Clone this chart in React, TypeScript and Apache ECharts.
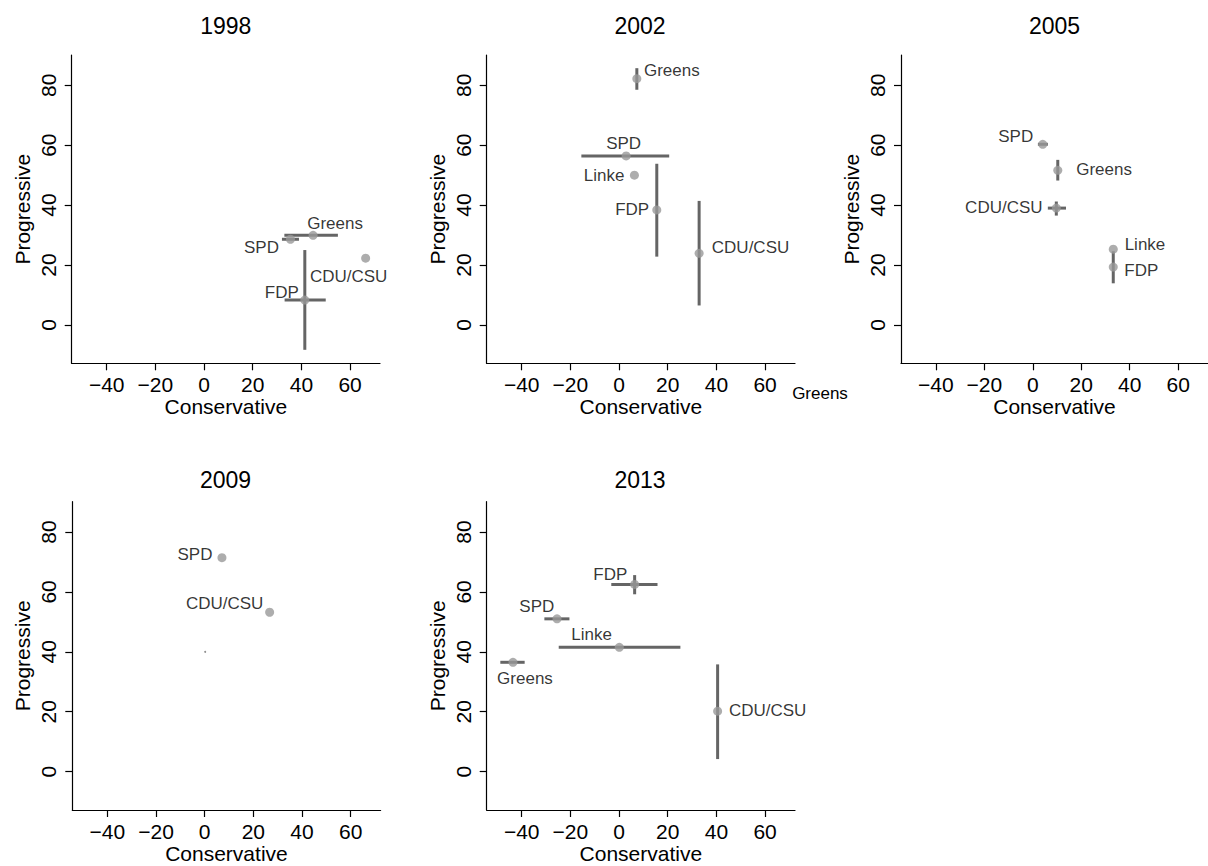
import React, { useEffect, useRef } from "react";
import * as echarts from "echarts";

// ---------- data ----------
const years = ["1998", "2002", "2005", "2009", "2013"];

const parties1998 = ["Greens", "SPD", "CDU/CSU", "FDP"];
const x1998 = [44.8, 35.5, 66.4, 41.4];
const y1998 = [29.9, 28.6, 22.3, 8.3];
const xLo1998 = [33.0, 32.0, null, 33.1];
const xHi1998 = [55.0, 39.0, null, 50.0];
const yLo1998 = [null, null, null, -8.3];
const yHi1998 = [null, null, null, 25.0];

const parties2002 = ["Greens", "SPD", "Linke", "FDP", "CDU/CSU"];
const x2002 = [7.3, 2.9, 6.3, 15.5, 32.9];
const y2002 = [82.2, 56.4, 50.0, 38.4, 23.9];
const xLo2002 = [null, -15.5, null, null, null];
const xHi2002 = [null, 20.6, null, null, null];
const yLo2002 = [78.5, null, null, 22.8, 6.5];
const yHi2002 = [85.7, null, null, 53.8, 41.4];

const parties2005 = ["SPD", "Greens", "CDU/CSU", "Linke", "FDP"];
const x2005 = [4.1, 10.3, 9.7, 33.2, 33.2];
const y2005 = [60.3, 51.6, 39.0, 25.3, 19.3];
const xLo2005 = [2.1, null, 6.2, null, null];
const xHi2005 = [6.2, null, 13.7, null, null];
const yLo2005 = [null, 48.2, 36.5, null, 13.9];
const yHi2005 = [null, 55.1, 41.2, null, 24.6];

const parties2009 = ["SPD", "CDU/CSU", ""];
const x2009 = [7.1, 26.7, 0.2];
const y2009 = [71.4, 53.2, 40.0];
const xLo2009 = [null, null, null];
const xHi2009 = [null, null, null];
const yLo2009 = [null, null, null];
const yHi2009 = [null, null, null];

const parties2013 = ["FDP", "SPD", "Linke", "Greens", "CDU/CSU"];
const x2013 = [6.4, -25.5, 0.1, -43.6, 40.5];
const y2013 = [62.5, 51.0, 41.5, 36.5, 20.2];
const xLo2013 = [-3.2, -30.7, -24.8, -48.8, null];
const xHi2013 = [15.8, -20.4, 25.2, -38.8, null];
const yLo2013 = [59.2, null, null, null, 4.2];
const yHi2013 = [65.6, null, null, null, 35.8];

const xTicks = [-40, -20, 0, 20, 40, 60];
const yTicks = [0, 20, 40, 60, 80];
const xAxisName = "Conservative";
const yAxisName = "Progressive";
const strayLabel = "Greens";

// ---------- layout / style (not data) ----------
const xMin = -54.4, xMax = 72.3, yMin = -12.8, yMax = 90.1;
const gridBoxes = [
  [71.7, 55], [486.7, 55], [901, 55],
  [72.3, 501.7], [486.7, 501.7],
];
const gridSize = 308.3;
const titlePos = [
  [225.8, 26.3], [640, 26.3], [1054.5, 26.3],
  [225.5, 480], [640, 479.5],
];
// label offsets (px) from each point, same order as parties
const labelOffsets = [
  [[22, -12], [-29, 8], [-17, 18.4], [-23, -8]],
  [[35, -8], [-2.5, -12.7], [-30.3, 0], [-24.6, 0], [51.4, -6]],
  [[-27, -7.7], [46.3, -1], [-52.5, -1], [31.7, -5], [28, 3.7]],
  [[-27, -3.4], [-45, -9], [0, 0]],
  [[-24.3, -10.3], [-20.2, -12.7], [-27.7, -13.3], [12, 16], [50, -1]],
];
const FONT = "'Liberation Sans', Arial, Helvetica, sans-serif";
const POINT = "#999999";
const BAR = "#656565";

const panels = [
  [parties1998, x1998, y1998, xLo1998, xHi1998, yLo1998, yHi1998],
  [parties2002, x2002, y2002, xLo2002, xHi2002, yLo2002, yHi2002],
  [parties2005, x2005, y2005, xLo2005, xHi2005, yLo2005, yHi2005],
  [parties2009, x2009, y2009, xLo2009, xHi2009, yLo2009, yHi2009],
  [parties2013, x2013, y2013, xLo2013, xHi2013, yLo2013, yHi2013],
];

const minus = (v: number) => String(v).replace("-", "\u2212");

function buildOption() {
  const grid: any[] = [];
  const xAxis: any[] = [];
  const yAxis: any[] = [];
  const series: any[] = [];
  const graphic: any[] = [];

  panels.forEach((p, i) => {
    const [names, xs, ys, xLo, xHi, yLo, yHi] = p as any[];
    const [gl, gt] = gridBoxes[i];
    grid.push({ left: gl, top: gt, width: gridSize, height: gridSize, containLabel: false });
    xAxis.push({
      type: "value", gridIndex: i, min: xMin, max: xMax,
      name: xAxisName, nameLocation: "middle", nameGap: 30,
      nameTextStyle: { fontSize: 21, color: "#000", fontFamily: FONT },
      axisLine: { show: true, onZero: false, lineStyle: { color: "#000", width: 1.2 } },
      axisTick: { show: true, length: 7, customValues: xTicks, lineStyle: { color: "#000", width: 1.2 } },
      axisLabel: { show: true, customValues: xTicks, fontSize: 21, color: "#000", fontFamily: FONT, margin: 11, formatter: minus },
      splitLine: { show: false },
    });
    yAxis.push({
      type: "value", gridIndex: i, min: yMin, max: yMax,
      name: yAxisName, nameLocation: "middle", nameGap: 39,
      nameTextStyle: { fontSize: 21, color: "#000", fontFamily: FONT },
      axisLine: { show: true, onZero: false, lineStyle: { color: "#000", width: 1.2 } },
      axisTick: { show: true, length: 7, customValues: yTicks, lineStyle: { color: "#000", width: 1.2 } },
      axisLabel: { show: true, customValues: yTicks, rotate: 90, fontSize: 21, color: "#000", fontFamily: FONT, margin: 13, formatter: minus },
      splitLine: { show: false },
    });

    const bars: number[][] = [];
    names.forEach((_: string, k: number) => {
      if (xLo[k] != null) bars.push([xLo[k], ys[k], xHi[k], ys[k]]);
      if (yLo[k] != null) bars.push([xs[k], yLo[k], xs[k], yHi[k]]);
    });
    series.push({
      type: "custom", xAxisIndex: i, yAxisIndex: i, z: 2,
      dimensions: ["x1", "y1", "x2", "y2"],
      encode: { x: [0, 2], y: [1, 3] },
      data: bars,
      renderItem: (params: any, api: any) => {
        const a = api.coord([api.value(0), api.value(1)]);
        const b = api.coord([api.value(2), api.value(3)]);
        return {
          type: "line",
          shape: { x1: a[0], y1: a[1], x2: b[0], y2: b[1] },
          style: { stroke: BAR, lineWidth: 3 },
        };
      },
    });

    series.push({
      type: "scatter", xAxisIndex: i, yAxisIndex: i, z: 3,
      data: names.map((n: string, k: number) => ({
        name: n,
        value: [xs[k], ys[k]],
        symbolSize: n === "" ? 2 : 9,
        itemStyle: { color: n === "" ? "#777" : POINT },
        label: { offset: labelOffsets[i][k] },
      })),
      symbol: "circle",
      label: {
        show: true, position: "inside", formatter: "{b}",
        color: "#000", fontSize: 17, fontFamily: FONT,
        align: "center", verticalAlign: "middle",
      },
    });

    graphic.push({
      type: "text", x: titlePos[i][0], y: titlePos[i][1],
      style: { text: years[i], fontSize: 23, fontFamily: FONT, fill: "#000", align: "center", verticalAlign: "middle" },
    });
  });

  graphic.push({
    type: "text", x: 820, y: 393.3,
    style: { text: strayLabel, fontSize: 17, fontFamily: FONT, fill: "#000", align: "center", verticalAlign: "middle" },
  });

  return {
    animation: false,
    backgroundColor: "#fff",
    textStyle: { fontFamily: FONT },
    grid, xAxis, yAxis, series, graphic,
  };
}

export default function App() {
  const ref = useRef<HTMLDivElement>(null);
  useEffect(() => {
    if (!ref.current) return;
    const chart = echarts.init(ref.current, undefined, { renderer: "svg" });
    chart.setOption(buildOption() as any);
    return () => chart.dispose();
  }, []);
  return (
    <div
      ref={ref}
      style={{ position: "absolute", left: 0, top: 0, width: 1208, height: 866, background: "#fff" }}
    />
  );
}
